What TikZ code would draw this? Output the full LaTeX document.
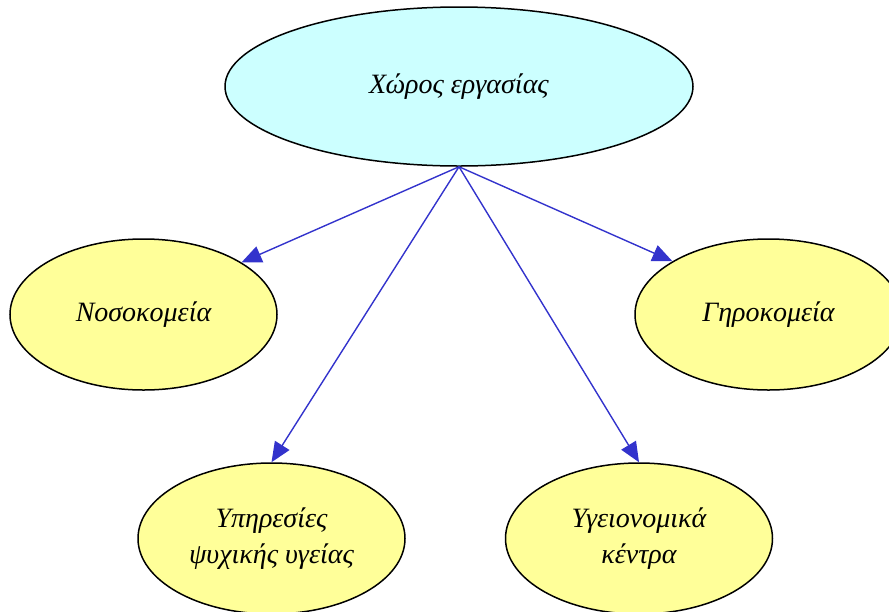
\documentclass[tikz,border=0pt]{standalone}
\usepackage{fontspec}
\setmainfont{Liberation Serif}
\usetikzlibrary{shapes.geometric,arrows.meta}
\definecolor{topfill}{HTML}{CCFFFF}
\definecolor{leaffill}{HTML}{FFFF99}
\definecolor{arrowblue}{HTML}{3333CC}
\tikzset{
  bubble/.style={ellipse, draw=black, line width=1.5pt, minimum width=267pt, minimum height=151pt, inner sep=0pt, fill=leaffill, align=center, font=\fontsize{28}{36}\selectfont\itshape},
  topbubble/.style={bubble, fill=topfill, minimum width=468pt, minimum height=159pt},
  link/.style={draw=arrowblue, line width=1.4pt, -{Triangle[length=20pt,width=17pt]}}
}
\begin{document}
\begin{tikzpicture}[x=1pt,y=-1pt]
\useasboundingbox (0,0) rectangle (889,611);
\clip (0,0) rectangle (889,611);
\node[topbubble] (top) at (459,86.5) {Χώρος εργασίας};
\node[bubble] (hosp) at (143.5,314.5) {Νοσοκομεία};
\node[bubble] (old) at (768.5,314.5) {Γηροκομεία};
\node[bubble] (mental) at (271.5,538.5) {Υπηρεσίες\\ψυχικής υγείας};
\node[bubble] (centres) at (639,538.5) {Υγειονομικά\\κέντρα};
\coordinate (src) at (top.south);
\draw[link] (src) -- (hosp.28.5);
\draw[link] (src) -- (old.151.5);
\draw[link] (src) -- (mental.north);
\draw[link] (src) -- (centres.north);
\end{tikzpicture}
\end{document}
